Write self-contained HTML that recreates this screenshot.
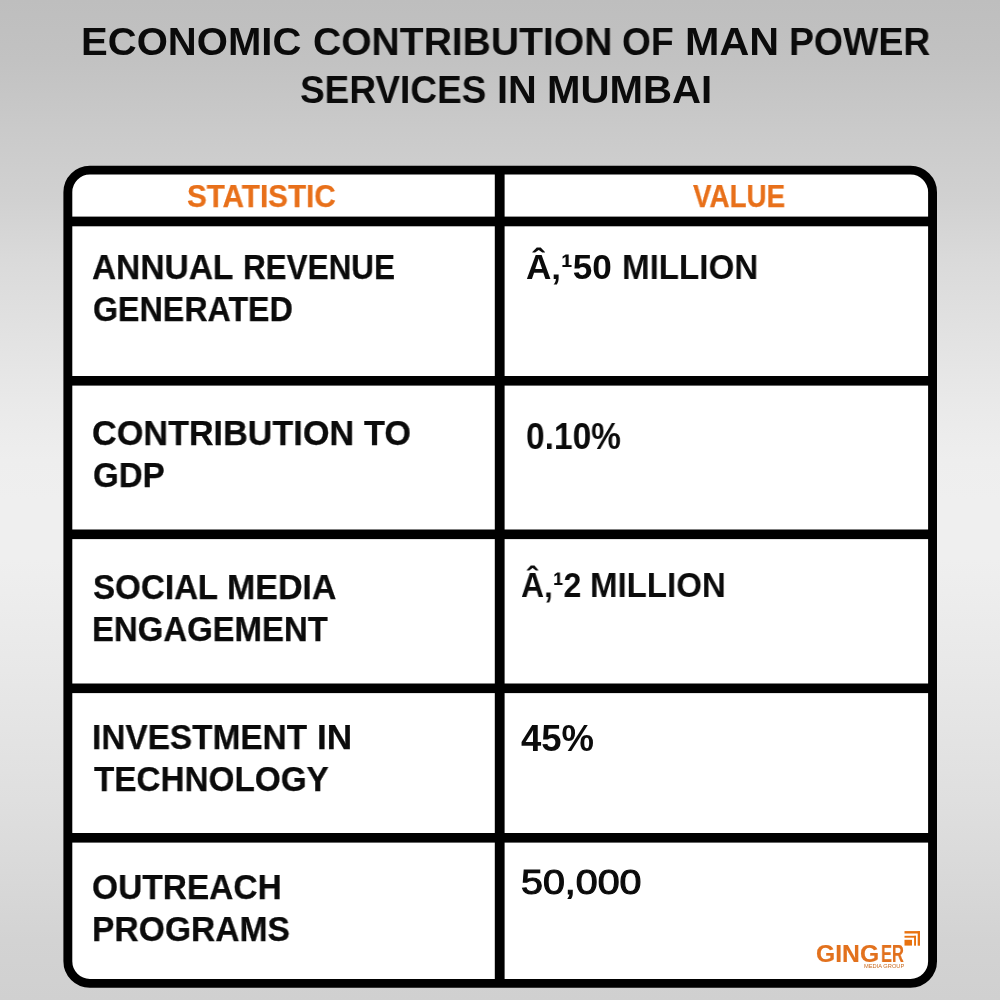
<!DOCTYPE html>
<html lang="en">
<head>
<meta charset="utf-8">
<title>Economic Contribution of Man Power Services in Mumbai</title>
<style>
  html, body { margin: 0; padding: 0; }
  body {
    width: 1000px; height: 1000px; overflow: hidden; position: relative;
    font-family: "Liberation Sans", sans-serif; font-weight: bold; color: #0b0b0b;
    background: linear-gradient(to bottom, #bebebe 0px, #c2c2c2 60px, #cacaca 130px, #d1d1d1 200px, #dadada 260px,
      #e9e9e9 400px, #eeeeee 460px, #efefef 500px, #efefef 560px, #eaeaea 640px, #e6e6e6 700px,
      #dfdfdf 800px, #dadada 860px, #d3d3d3 940px, #d0d0d0 1000px);
  }
  .t { position: absolute; white-space: nowrap; line-height: 1; transform-origin: 0 0; will-change: transform; -webkit-text-stroke: 0.25px currentColor; }
</style>
</head>
<body>
  <svg id="grid" width="1000" height="1000" viewBox="0 0 1000 1000" style="position:absolute;left:0;top:0;" aria-hidden="true">
    <rect x="67.85" y="170.15" width="864.7" height="813.2" rx="22" ry="22" fill="#ffffff" stroke="#000000" stroke-width="8.9"/>
    <g fill="#000000">
      <rect x="70" y="216.6" width="860" height="9.7"/>
      <rect x="70" y="376.0" width="860" height="9.6"/>
      <rect x="70" y="529.5" width="860" height="9.6"/>
      <rect x="70" y="683.5" width="860" height="9.6"/>
      <rect x="70" y="833.0" width="860" height="9.6"/>
      <rect x="494.8" y="170" width="9.8" height="813"/>
    </g>
  </svg>
  <svg id="icon" width="17" height="16" viewBox="904 931 17 16" style="position:absolute;left:904px;top:931px;" aria-hidden="true">
    <g fill="#e8720f">
      <rect x="904.5" y="931.1" width="15.5" height="2.4"/>
      <rect x="917.7" y="931.1" width="2.3" height="14.6"/>
      <rect x="904.5" y="935.8" width="11.5" height="1.9"/>
      <rect x="914.1" y="935.8" width="1.9" height="9.9"/>
      <rect x="904.5" y="939.8" width="7.5" height="5.8"/>
    </g>
  </svg>
  <!--TEXT-->
  <span class="t" id="t1a" style="left:80.79px;top:22.09px;font-size:39.42px;transform:scaleX(1.0166);-webkit-text-stroke:0;">ECONOMIC</span>
  <span class="t" id="t1b" style="left:312.94px;top:22.09px;font-size:39.42px;transform:scaleX(0.9909);-webkit-text-stroke:0;">CONTRIBUTION</span>
  <span class="t" id="t1c" style="left:622.02px;top:22.09px;font-size:39.42px;transform:scaleX(0.9411);-webkit-text-stroke:0;">OF</span>
  <span class="t" id="t1d" style="left:684.51px;top:22.09px;font-size:39.42px;transform:scaleX(1.0479);-webkit-text-stroke:0;">MAN</span>
  <span class="t" id="t1e" style="left:788.58px;top:22.09px;font-size:39.42px;transform:scaleX(0.9485);-webkit-text-stroke:0;">POWER</span>
  <span class="t" id="t2a" style="left:300.49px;top:70.34px;font-size:39.13px;transform:scaleX(0.9451);-webkit-text-stroke:0;">SERVICES</span>
  <span class="t" id="t2b" style="left:496.82px;top:70.34px;font-size:39.13px;transform:scaleX(1.0163);-webkit-text-stroke:0;">IN</span>
  <span class="t" id="t2c" style="left:547.19px;top:70.34px;font-size:39.13px;transform:scaleX(1.0274);-webkit-text-stroke:0;">MUMBAI</span>
  <span class="t" id="h1" style="left:187.11px;top:180.73px;font-size:30.43px;transform:scaleX(0.9738);color:#e8701a;">STATISTIC</span>
  <span class="t" id="h2" style="left:692.72px;top:180.73px;font-size:30.43px;transform:scaleX(0.9144);color:#e8701a;">VALUE</span>
  <span class="t" id="r1a1" style="left:91.89px;top:250.03px;font-size:34.78px;transform:scaleX(0.9634);">ANNUAL</span>
  <span class="t" id="r1a2" style="left:242.80px;top:250.03px;font-size:34.78px;transform:scaleX(0.9038);">REVENUE</span>
  <span class="t" id="r1b" style="left:93.11px;top:291.53px;font-size:34.20px;transform:scaleX(0.9421);">GENERATED</span>
  <span class="t" id="r1v1" style="left:526.35px;top:250.03px;font-size:34.78px;transform:scaleX(1.0093);-webkit-text-stroke:0;">Â‚¹50</span>
  <span class="t" id="r1v2" style="left:622.13px;top:250.03px;font-size:34.78px;transform:scaleX(0.9537);-webkit-text-stroke:0;">MILLION</span>
  <span class="t" id="r2a1" style="left:92.33px;top:416.38px;font-size:34.49px;transform:scaleX(0.9913);">CONTRIBUTION</span>
  <span class="t" id="r2a2" style="left:363.66px;top:416.38px;font-size:34.49px;transform:scaleX(0.9927);">TO</span>
  <span class="t" id="r2b" style="left:93.08px;top:458.11px;font-size:34.93px;transform:scaleX(0.9466);">GDP</span>
  <span class="t" id="r2v" style="left:526.26px;top:418.71px;font-size:36.81px;transform:scaleX(0.9101);-webkit-text-stroke:0;">0.10%</span>
  <span class="t" id="r3a1" style="left:92.71px;top:569.91px;font-size:34.93px;transform:scaleX(0.9490);">SOCIAL</span>
  <span class="t" id="r3a2" style="left:227.12px;top:569.91px;font-size:34.93px;transform:scaleX(0.9727);">MEDIA</span>
  <span class="t" id="r3b" style="left:92.10px;top:612.01px;font-size:34.93px;transform:scaleX(0.9421);">ENGAGEMENT</span>
  <span class="t" id="r3v1" style="left:520.64px;top:568.03px;font-size:34.78px;transform:scaleX(0.9194);-webkit-text-stroke:0;">Â‚¹2</span>
  <span class="t" id="r3v2" style="left:590.08px;top:568.03px;font-size:34.78px;transform:scaleX(0.9509);-webkit-text-stroke:0;">MILLION</span>
  <span class="t" id="r4a1" style="left:92.06px;top:719.91px;font-size:34.93px;transform:scaleX(0.9556);">INVESTMENT</span>
  <span class="t" id="r4a2" style="left:317.03px;top:719.91px;font-size:34.93px;transform:scaleX(1.0087);">IN</span>
  <span class="t" id="r4b" style="left:94.07px;top:762.01px;font-size:34.93px;transform:scaleX(0.9530);">TECHNOLOGY</span>
  <span class="t" id="r4v" style="left:520.97px;top:721.20px;font-size:36.23px;transform:scaleX(1.0082);-webkit-text-stroke:0;">45%</span>
  <span class="t" id="r5a" style="left:92.36px;top:869.91px;font-size:34.93px;transform:scaleX(0.9583);">OUTREACH</span>
  <span class="t" id="r5b" style="left:92.05px;top:912.01px;font-size:34.93px;transform:scaleX(0.9629);">PROGRAMS</span>
  <span class="t" id="r5v" style="left:521.02px;top:864.70px;font-size:35.65px;transform:scaleX(1.1050);font-weight:normal;-webkit-text-stroke:1.1px #0b0b0b;">50,000</span>
  <span class="t" id="lg1" style="left:815.97px;top:943.17px;font-size:23.33px;transform:scaleX(1.0580);color:#e2711d;-webkit-text-stroke:0.15px #e2711d;">GING</span>
  <span class="t" id="lg2" style="left:881.09px;top:943.17px;font-size:23.33px;transform:scaleX(0.7042);color:#e2711d;-webkit-text-stroke:0.15px #e2711d;">ER</span>
  <span class="t" id="lm" style="left:863.94px;top:964.09px;font-size:5.07px;transform:scaleX(1.1282);color:#c96a1f;font-weight:normal;-webkit-text-stroke:0;">MEDIA GROUP</span>
  <!--/TEXT-->
</body>
</html>
